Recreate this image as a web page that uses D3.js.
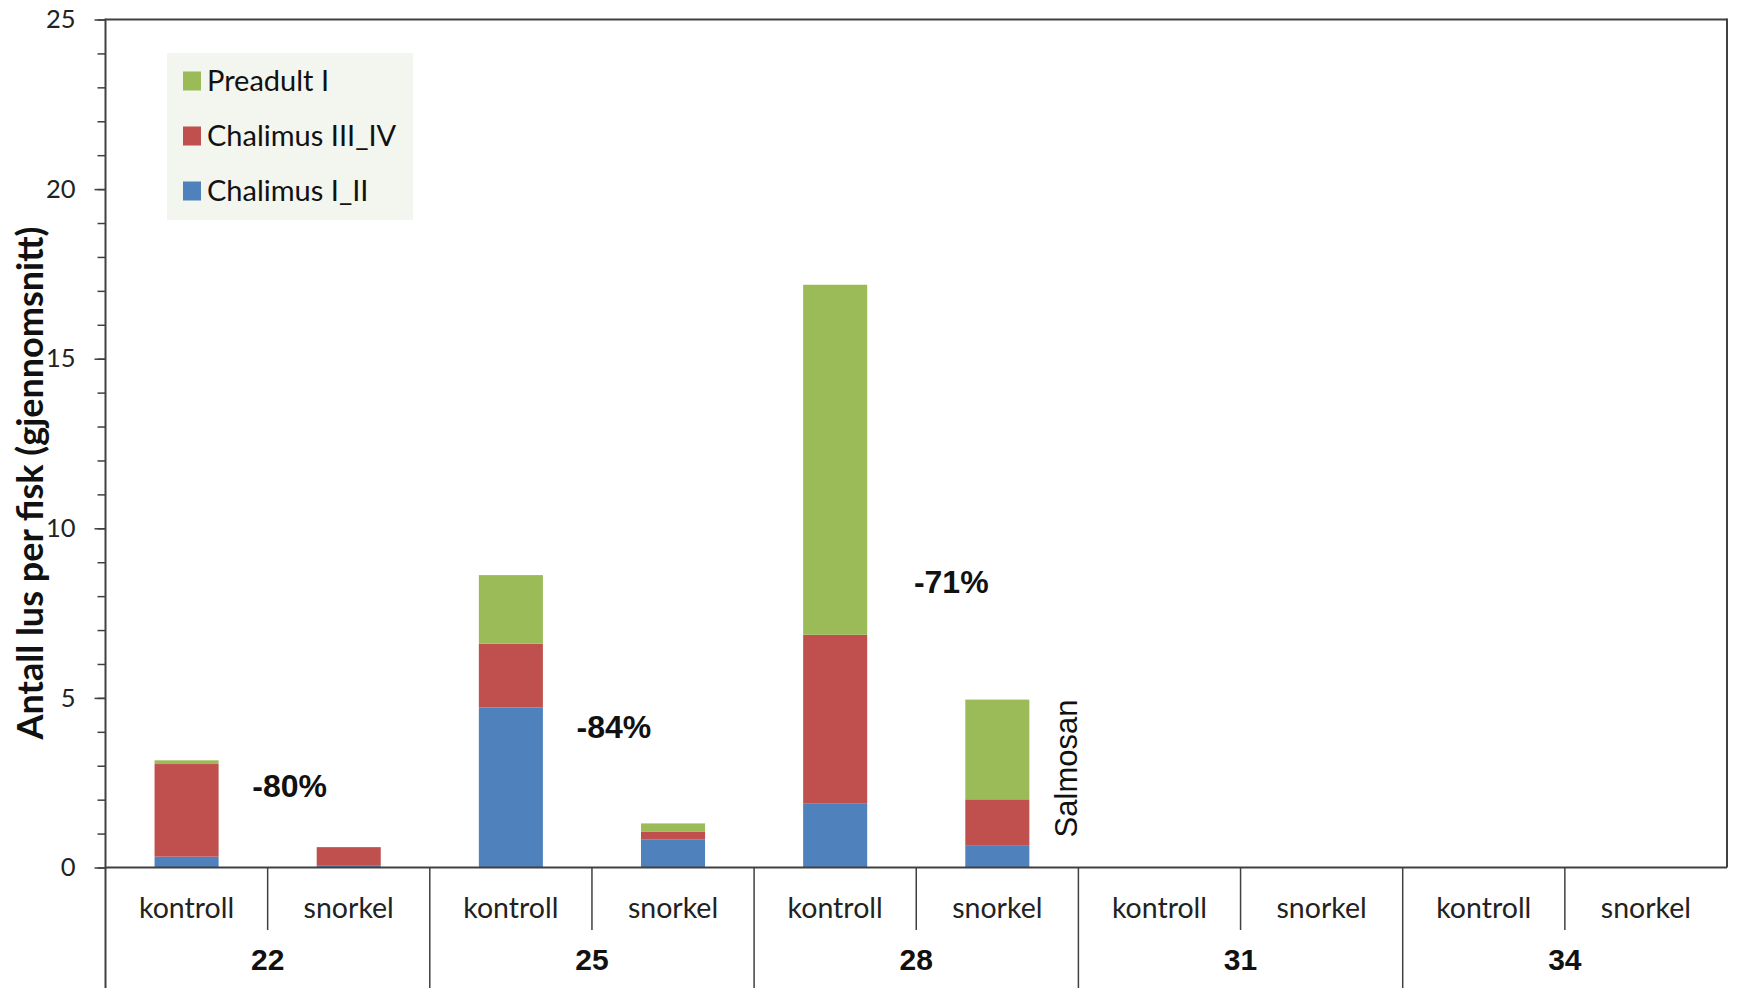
<!DOCTYPE html>
<html>
<head>
<meta charset="utf-8">
<script src="https://cdn.jsdelivr.net/npm/d3@7"></script>
<style>
  html, body { margin: 0; padding: 0; background: #fff; }
  svg { display: block; }
</style>
</head>
<body>
<svg id="chart" width="1739" height="988"></svg>
<script>
// ---------------- DATA ----------------
const groups = ["22", "25", "28", "31", "34"];
const treatments = ["kontroll", "snorkel"];
const seriesNames = ["Chalimus I_II", "Chalimus III_IV", "Preadult I"];
// values per bar, order: 22 kontroll, 22 snorkel, 25 kontroll, 25 snorkel, ...
const chalimusI_II   = [0.32, 0.07, 4.72, 0.82, 1.88, 0.64, 0, 0, 0, 0];
const chalimusIII_IV = [2.73, 0.53, 1.88, 0.23, 4.98, 1.37, 0, 0, 0, 0];
const preadultI      = [0.11, 0.00, 2.02, 0.25, 10.32, 2.94, 0, 0, 0, 0];
const yTicks = [0, 5, 10, 15, 20, 25];
const annotationGroups = ["22", "25", "28"];
const annotationTexts = ["-80%", "-84%", "-71%"];
const annotationValues = [2.08, 3.82, 8.09];
const noteText = "Salmosan";
const noteValue = 2.92;
const yLabel = "Antall lus per fisk (gjennomsnitt)";

// ---------------- LAYOUT ----------------
const colors = { "Chalimus I_II": "#4f81bd", "Chalimus III_IV": "#c0504d", "Preadult I": "#9bbb59" };
const svg = d3.select("#chart");
const pL = 105.5, pR = 1727, pB = 867.5, pT = 19.5, svgH = 988;
const lineColor = "#404040";
const calibri = "Lato, 'Open Sans', sans-serif";
const arial = "'Liberation Sans', Arial, sans-serif";

const y = d3.scaleLinear().domain([0, 25]).range([pB, pT]);
const xg = d3.scaleBand().domain(groups).range([pL, pR]).padding(0);
const xs = d3.scaleBand().domain(treatments).range([0, xg.bandwidth()]).padding(0);
const barW = xs.bandwidth() * 0.395;

const rows = [];
groups.forEach((g, gi) => treatments.forEach((t, ti) => {
  const i = gi * 2 + ti;
  rows.push({ group: g, treat: t,
    "Chalimus I_II": chalimusI_II[i],
    "Chalimus III_IV": chalimusIII_IV[i],
    "Preadult I": preadultI[i] });
}));
const stacked = d3.stack().keys(seriesNames)(rows);

// bars
svg.append("g").selectAll("g").data(stacked).join("g")
  .attr("fill", d => colors[d.key])
  .selectAll("rect").data(d => d).join("rect")
  .attr("x", d => xg(d.data.group) + xs(d.data.treat) + (xs.bandwidth() - barW) / 2)
  .attr("width", barW)
  .attr("y", d => y(d[1]))
  .attr("height", d => Math.max(0, y(d[0]) - y(d[1])));

// plot frame: top and right
svg.append("line").attr("x1", pL).attr("x2", pR).attr("y1", pT).attr("y2", pT)
  .attr("stroke", lineColor).attr("stroke-width", 2);
svg.append("line").attr("x1", pR).attr("x2", pR).attr("y1", pT - 1).attr("y2", pB)
  .attr("stroke", lineColor).attr("stroke-width", 2);

// y axis with minor + major ticks
svg.append("g").attr("transform", `translate(${pL},0)`)
  .call(d3.axisLeft(y).tickValues(d3.range(0, 26, 1)).tickSize(8).tickFormat(""))
  .call(g => g.select(".domain").remove())
  .call(g => g.selectAll("line").attr("stroke", lineColor).attr("stroke-width", 1.5));
svg.append("g").attr("transform", `translate(${pL},0)`)
  .call(d3.axisLeft(y).tickValues(yTicks).tickSize(11).tickPadding(19).tickFormat(d3.format("d")))
  .call(g => g.select(".domain").remove())
  .call(g => g.selectAll("line").attr("stroke", lineColor).attr("stroke-width", 1.5))
  .call(g => g.selectAll("text").attr("font-family", calibri).attr("font-size", 25.5)
    .attr("fill", "#222"));
svg.append("line").attr("x1", pL).attr("x2", pL).attr("y1", pT - 1).attr("y2", svgH)
  .attr("stroke", lineColor).attr("stroke-width", 2);

// x baseline
svg.append("line").attr("x1", pL).attr("x2", pR).attr("y1", pB).attr("y2", pB)
  .attr("stroke", lineColor).attr("stroke-width", 2);

// category axis: group separators and sub separators
svg.append("g").selectAll("line").data(groups.slice(1)).join("line")
  .attr("x1", d => xg(d)).attr("x2", d => xg(d))
  .attr("y1", pB).attr("y2", svgH)
  .attr("stroke", lineColor).attr("stroke-width", 1.5);
svg.append("g").selectAll("line").data(groups).join("line")
  .attr("x1", d => xg(d) + xs("snorkel")).attr("x2", d => xg(d) + xs("snorkel"))
  .attr("y1", pB).attr("y2", 930)
  .attr("stroke", lineColor).attr("stroke-width", 1.5);

// sub labels
svg.append("g").selectAll("text").data(rows).join("text")
  .attr("x", d => xg(d.group) + xs(d.treat) + xs.bandwidth() / 2)
  .attr("y", 918)
  .attr("text-anchor", "middle")
  .attr("font-family", calibri).attr("font-size", 28.5).attr("fill", "#222")
  .text(d => d.treat);
// group labels
svg.append("g").selectAll("text").data(groups).join("text")
  .attr("x", d => xg(d) + xg.bandwidth() / 2)
  .attr("y", 970)
  .attr("text-anchor", "middle")
  .attr("font-family", arial).attr("font-weight", "bold").attr("font-size", 30).attr("fill", "#111")
  .text(d => d);

// annotations
svg.append("g").selectAll("text").data(annotationTexts).join("text")
  .attr("x", (d, i) => xg(annotationGroups[i]) + xg.bandwidth() / 2 + (i === 2 ? 35 : 22))
  .attr("y", (d, i) => y(annotationValues[i]))
  .attr("text-anchor", "middle")
  .attr("font-family", arial).attr("font-weight", "bold").attr("font-size", 32).attr("fill", "#111")
  .text(d => d);

// Salmosan note
const nx = xg("28") + xg.bandwidth() - 1.5, ny = y(noteValue);
svg.append("text")
  .attr("transform", `translate(${nx},${ny}) rotate(-90)`)
  .attr("text-anchor", "middle")
  .attr("font-family", arial).attr("font-size", 31).attr("fill", "#111")
  .text(noteText);

// y label
svg.append("text")
  .attr("transform", `translate(43,483) rotate(-90)`)
  .attr("text-anchor", "middle")
  .attr("font-family", calibri).attr("font-weight", "bold").attr("font-size", 36).attr("fill", "#111")
  .text(yLabel);

// legend
const lg = svg.append("g");
lg.append("rect").attr("x", 167).attr("y", 53).attr("width", 246).attr("height", 167).attr("fill", "#f3f6ee");
const legendItems = seriesNames.slice().reverse();
const li = lg.selectAll("g.item").data(legendItems).join("g").attr("class", "item")
  .attr("transform", (d, i) => `translate(0,${81 + i * 55})`);
li.append("rect").attr("x", 183).attr("y", -9.5).attr("width", 18).attr("height", 19).attr("fill", d => colors[d]);
li.append("text").attr("x", 207).attr("y", 0).attr("dy", "0.35em")
  .attr("font-family", calibri).attr("font-size", 29).attr("fill", "#111")
  .text(d => d);
</script>
</body>
</html>
